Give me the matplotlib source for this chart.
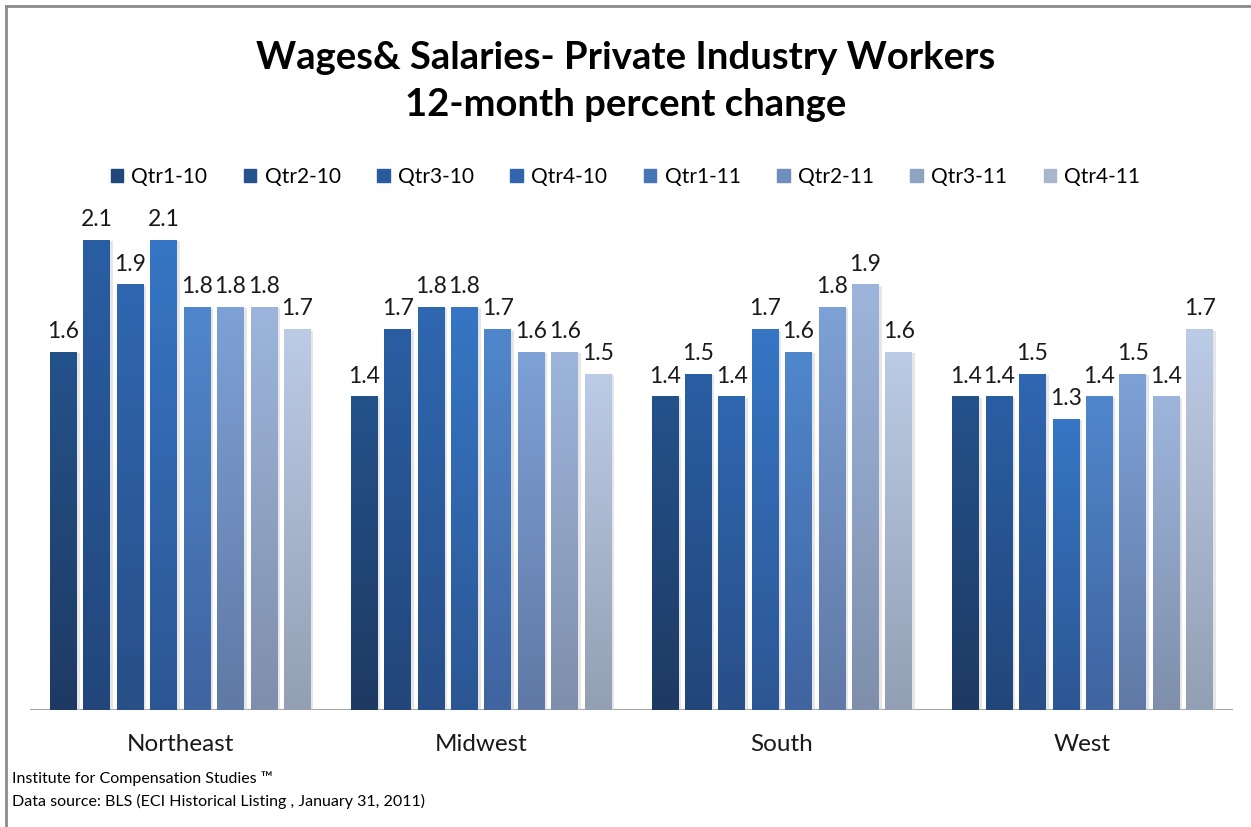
import matplotlib
matplotlib.use("Agg")
import matplotlib.pyplot as plt
import numpy as np
from matplotlib.colors import LinearSegmentedColormap
from matplotlib.patches import Rectangle
from matplotlib.lines import Line2D
import matplotlib.patheffects as pe

plt.rcParams['font.family'] = ['Lato', 'DejaVu Sans']

# Regions and quarterly 12-month percent change
regions = ['Northeast', 'Midwest', 'South', 'West']
quarters = ['Qtr1-10', 'Qtr2-10', 'Qtr3-10', 'Qtr4-10',
            'Qtr1-11', 'Qtr2-11', 'Qtr3-11', 'Qtr4-11']
qtr1_10 = [1.6, 1.4, 1.4, 1.4]
qtr2_10 = [2.1, 1.7, 1.5, 1.4]
qtr3_10 = [1.9, 1.8, 1.4, 1.5]
qtr4_10 = [2.1, 1.8, 1.7, 1.3]
qtr1_11 = [1.8, 1.7, 1.6, 1.4]
qtr2_11 = [1.8, 1.6, 1.8, 1.5]
qtr3_11 = [1.8, 1.6, 1.9, 1.4]
qtr4_11 = [1.7, 1.5, 1.6, 1.7]
series = [qtr1_10, qtr2_10, qtr3_10, qtr4_10, qtr1_11, qtr2_11, qtr3_11, qtr4_11]

# gradient colours per quarter, top of bar and bottom of bar
top_colors = ['#24528b', '#2a5ea3', '#2f67b1', '#3676c5',
              '#5087cc', '#7ea1d6', '#9db5dc', '#bccbe6']
bottom_colors = ['#1e3a63', '#22467a', '#284f88', '#2c5693',
                 '#3f64a0', '#6079a6', '#7f8fab', '#939fb4']
legend_colors = ['#21477a', '#26528f', '#2b5b9f', '#3166ae',
                 '#4775b6', '#6f8dbe', '#8ea2c4', '#a8b5cd']

fig = plt.figure(figsize=(12.51, 8.27), dpi=100)
ax = fig.add_axes([30 / 1251, 117 / 827, 1203 / 1251, 560 / 827])
ax.set_xlim(-0.5, 3.5)
ax.set_ylim(0, 2.5)
for s in ax.spines.values():
    s.set_visible(False)
ax.set_yticks([])
ax.set_xticks([])

x = np.arange(len(regions))
step = 1 / 9
width = step * 0.8
grad = np.linspace(0, 1, 256).reshape(-1, 1)

for j, vals in enumerate(series):
    pos = x + (j - 3.5) * step
    bars = ax.bar(pos, vals, width, color=bottom_colors[j], zorder=2,
                  path_effects=[pe.SimplePatchShadow(offset=(2, -1), shadow_rgbFace='#c8c8c8', alpha=0.45),
                                pe.Normal()])
    cmap = LinearSegmentedColormap.from_list('q%d' % j, [bottom_colors[j], top_colors[j]])
    for b, v in zip(bars, vals):
        x0 = b.get_x()
        im = ax.imshow(grad, cmap=cmap, origin='lower', aspect='auto', zorder=3,
                       extent=[x0, x0 + b.get_width(), 0, b.get_height()])
        im.set_clip_path(b)
        ax.annotate(f'{v:g}', (b.get_x() + b.get_width() / 2, v),
                    xytext=(0, 7), textcoords='offset points',
                    ha='center', va='bottom', fontsize=16.5, color='#1a1a1a', zorder=4)

ax.axhline(0, color='#a6a6a6', lw=1.5, zorder=1)
for xi, name in zip(x, regions):
    ax.text(xi, -0.155, name, ha='center', va='center', fontsize=17.5, color='#1a1a1a')

fig.text(0.5, 1 - 58 / 827, 'Wages& Salaries- Private Industry Workers',
         ha='center', va='center', fontsize=27.5, fontweight='bold')
fig.text(0.5, 1 - 105 / 827, '12-month percent change',
         ha='center', va='center', fontsize=27.5, fontweight='bold')

handles = [Rectangle((0, 0), 1, 1, color=c) for c in legend_colors]
fig.legend(handles, quarters, loc='center', bbox_to_anchor=(0.5, 1 - 177 / 827),
           ncol=8, frameon=False, fontsize=15, handlelength=0.6, handleheight=0.6,
           handletextpad=0.4, columnspacing=1.75)

fig.text(12 / 1251, 1 - 779 / 827, 'Institute for Compensation Studies \u2122',
         ha='left', va='center', fontsize=11.5)
fig.text(12 / 1251, 1 - 801 / 827, 'Data source: BLS (ECI Historical Listing , January 31, 2011)',
         ha='left', va='center', fontsize=11.5)

# frame around the chart area
fig.add_artist(Line2D([6 / 1251, 6 / 1251], [0, 1 - 6 / 827], transform=fig.transFigure,
                      color='#8c8c8c', lw=2))
fig.add_artist(Line2D([6 / 1251, 1], [1 - 6 / 827, 1 - 6 / 827], transform=fig.transFigure,
                      color='#8c8c8c', lw=2))

fig.savefig('out.png', dpi=100)
